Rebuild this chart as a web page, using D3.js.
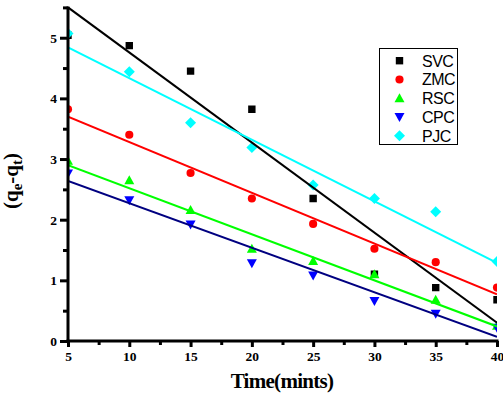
<!DOCTYPE html>
<html><head><meta charset="utf-8">
<script src="https://cdn.jsdelivr.net/npm/d3@7"></script>
<style>body{margin:0;background:#fff}svg{display:block}</style>
</head><body>
<svg id="c" width="503" height="395"></svg>
<script>
const times = [5, 10, 15, 20, 25, 30, 35, 40];
const seriesNames = ["SVC", "ZMC", "RSC", "CPC", "PJC"];
const svc = [5.04, 4.87, 4.45, 3.82, 2.35, 1.10, 0.88, 0.68];
const zmc = [3.82, 3.40, 2.77, 2.35, 1.93, 1.52, 1.30, 0.88];
const rsc = [2.97, 2.65, 2.16, 1.52, 1.32, 1.10, 0.68, 0.25];
const cpc = [2.76, 2.32, 1.92, 1.28, 1.08, 0.66, 0.45, 0.22];
const pjc = [5.07, 4.44, 3.60, 3.19, 2.57, 2.35, 2.13, 1.31];
// fitted line values at t=5 and t=40
const fitStart = [5.50, 3.70, 2.90, 2.64, 4.84];
const fitEnd = [0.30, 0.77, 0.24, 0.07, 1.29];
const xTicks = [5, 10, 15, 20, 25, 30, 35, 40];
const yTicks = [0, 1, 2, 3, 4, 5];

const values = [svc, zmc, rsc, cpc, pjc];
const markerColors = ["#000000", "#ff0000", "#00ff00", "#0000ff", "#00ffff"];
const lineColors = ["#000000", "#ff0000", "#00ff00", "#000080", "#00ffff"];
const shapes = ["square", "circle", "up", "down", "diamond"];

const svg = d3.select("#c");
const L = 68, R = 497, T = 7.4, B = 341;
const x = d3.scaleLinear().domain([5, 40]).range([L, R]);
const y = d3.scaleLinear().domain([0, 5.5]).range([B, T]);

svg.append("defs").append("clipPath").attr("id", "clip")
  .append("rect").attr("x", L).attr("y", T - 1).attr("width", R - L).attr("height", B - T + 1);

function markerPath(shape) {
  switch (shape) {
    case "square": return "M-3.7,-3.7H3.7V3.7H-3.7Z";
    case "circle": return d3.symbol(d3.symbolCircle, 52)();
    case "up": return "M0,-5L5,4H-5Z";
    case "down": return "M0,5L5,-4H-5Z";
    case "diamond": return "M0,-5.5L5.5,0L0,5.5L-5.5,0Z";
  }
}

const plot = svg.append("g").attr("clip-path", "url(#clip)");
values.forEach((vals, i) => {
  plot.append("g").selectAll("path").data(vals).join("path")
    .attr("d", markerPath(shapes[i]))
    .attr("transform", (d, j) => `translate(${x(times[j])},${y(d)})`)
    .attr("fill", markerColors[i]);
});
const line = d3.line().x(d => x(d[0])).y(d => y(d[1]));
values.forEach((vals, i) => {
  plot.append("path")
    .attr("d", line([[5, fitStart[i]], [40, fitEnd[i]]]))
    .attr("stroke", lineColors[i]).attr("stroke-width", 2).attr("fill", "none");
});

// axes
const yAxis = d3.axisLeft(y).tickValues(yTicks).tickSize(8).tickFormat(d3.format("d")).tickPadding(3);
const yMinor = d3.axisLeft(y).tickValues(d3.range(0.5, 5.6, 1)).tickSize(5).tickFormat("");
const xAxis = d3.axisBottom(x).tickValues(xTicks).tickSize(6).tickFormat(d3.format("d")).tickPadding(4);
const xMinor = d3.axisBottom(x).tickValues(d3.range(7.5, 40, 5)).tickSize(4).tickFormat("");

function styleAxis(g) {
  g.select(".domain").remove();
  g.selectAll("line").attr("stroke", "#000").attr("stroke-width", 3);
  g.selectAll("text").attr("fill", "#000")
    .style("font-family", "'Liberation Serif', 'Times New Roman', serif")
    .style("font-weight", "bold").style("font-size", "13.5px");
}
svg.append("g").attr("transform", `translate(${L},0)`).call(yAxis).call(styleAxis);
svg.append("g").attr("transform", `translate(${L},0)`).call(yMinor).call(styleAxis);
svg.append("g").attr("transform", `translate(0,${B})`).call(xAxis).call(styleAxis);
svg.append("g").attr("transform", `translate(0,${B})`).call(xMinor).call(styleAxis);
svg.append("line").attr("x1", L).attr("x2", L).attr("y1", T - 1).attr("y2", B + 1.5)
  .attr("stroke", "#000").attr("stroke-width", 3);
svg.append("line").attr("x1", L - 1.5).attr("x2", R + 1.5).attr("y1", B).attr("y2", B)
  .attr("stroke", "#000").attr("stroke-width", 3);

// titles
svg.append("text").attr("x", 282).attr("y", 388).attr("text-anchor", "middle")
  .style("font-family", "'Liberation Serif', 'Times New Roman', serif")
  .style("font-weight", "bold").style("font-size", "21px").style("letter-spacing", "-0.7px")
  .text("Time(mints)");
const yt = svg.append("text").attr("transform", "translate(18,181) rotate(-90)")
  .attr("text-anchor", "middle")
  .style("font-family", "'Liberation Serif', 'Times New Roman', serif")
  .style("font-weight", "bold").style("font-size", "21px");
yt.append("tspan").text("(q");
yt.append("tspan").attr("dy", 4).style("font-size", "15px").text("e");
yt.append("tspan").attr("dy", -4).text("-q");
yt.append("tspan").attr("dy", 4).style("font-size", "15px").text("t");
yt.append("tspan").attr("dy", -4).text(")");

// legend
const lg = svg.append("g");
lg.append("rect").attr("x", 379.5).attr("y", 48.5).attr("width", 78).attr("height", 96)
  .attr("fill", "#fff").attr("stroke", "#000").attr("stroke-width", 1);
seriesNames.forEach((n, i) => {
  const cy = 60.7 + i * 18.75;
  lg.append("path").attr("d", markerPath(shapes[i]))
    .attr("transform", `translate(399.5,${cy})`).attr("fill", markerColors[i]);
  lg.append("text").attr("x", 422).attr("y", cy + 5.8)
    .style("font-family", "'Liberation Sans', Arial, sans-serif").style("font-size", "16px")
    .style("letter-spacing", "-0.5px")
    .text(n);
});
</script>
</body></html>
